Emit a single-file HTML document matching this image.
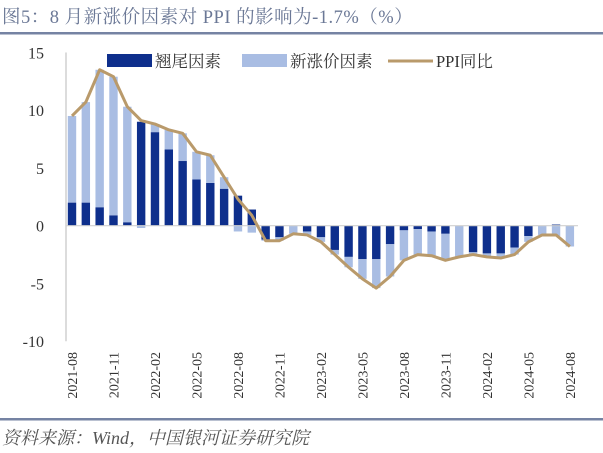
<!DOCTYPE html>
<html><head><meta charset="utf-8"><style>
body{margin:0;background:#fff;width:603px;height:448px;overflow:hidden;font-family:"Liberation Serif","Noto Serif CJK SC",serif}
</style></head><body>
<svg id="c" width="603" height="448" viewBox="0 0 603 448" xmlns="http://www.w3.org/2000/svg">
<text x="2" y="23" font-size="18.5" letter-spacing="0.5" fill="#6b7896" font-family="Liberation Serif, Noto Serif CJK SC, serif">图5：8 月新涨价因素对 PPI 的影响为-1.7%（%）</text>
<rect x="0" y="32" width="603" height="2.5" fill="#7583a3"/>
<rect x="0" y="418" width="603" height="2.5" fill="#7583a3"/>
<text x="2" y="444" font-size="18" font-style="italic" fill="#555">资料来源：Wind，中国银河证券研究院</text>
<g id="plot"></g>
</svg>
<script>
const months=["2021-08","2021-09","2021-10","2021-11","2021-12","2022-01","2022-02","2022-03","2022-04","2022-05","2022-06","2022-07","2022-08","2022-09","2022-10","2022-11","2022-12","2023-01","2023-02","2023-03","2023-04","2023-05","2023-06","2023-07","2023-08","2023-09","2023-10","2023-11","2023-12","2024-01","2024-02","2024-03","2024-04","2024-05","2024-06","2024-07","2024-08"];
const carry=[2.0,2.0,1.6,0.9,0.3,9.0,8.1,6.6,5.6,4.0,3.7,3.2,2.6,1.4,-1.2,-1.0,0,-0.5,-1.0,-2.1,-2.7,-2.9,-2.9,-1.6,-0.4,-0.3,-0.5,-0.7,0,-2.3,-2.4,-2.4,-1.9,-0.9,0,0.1,0];
const newF=[7.5,8.7,11.9,12.0,10.0,-0.2,0.7,1.7,2.4,2.4,2.4,1.0,-0.5,-0.6,-0.1,-0.3,-0.7,-0.3,-0.4,-0.4,-0.9,-1.7,-2.5,-2.8,-2.6,-2.2,-2.1,-2.3,-2.7,-0.2,-0.3,-0.4,-0.6,-0.5,-0.8,-0.9,-1.8];
const ppi=[9.5,10.7,13.5,12.9,10.3,9.1,8.8,8.3,8.0,6.4,6.1,4.2,2.3,0.9,-1.3,-1.3,-0.7,-0.8,-1.4,-2.5,-3.6,-4.6,-5.4,-4.4,-3.0,-2.5,-2.6,-3.0,-2.7,-2.5,-2.7,-2.8,-2.5,-1.4,-0.8,-0.8,-1.8];
const yTicks=[15,10,5,0,-5,-10];
const NS="http://www.w3.org/2000/svg";
const g=document.getElementById('plot');
const y=v=>225.7-v*11.55;
const x=i=>72+i*13.83;
function mk(t,a){const e=document.createElementNS(NS,t);for(const k in a)e.setAttribute(k,a[k]);g.appendChild(e);return e;}
let ax=mk('line',{x1:66,x2:66,y1:y(15),y2:y(-10),stroke:'#d0d0d0','stroke-width':1.5});


yTicks.forEach(v=>{const t=mk('text',{x:44,y:y(v)+6,'text-anchor':'end','font-size':16,fill:'#333'});t.textContent=v;

});
months.forEach((m,i)=>{
 const c=carry[i],n=newF[i];let pos=0,neg=0;
 [[c,'#0e2f8c','bar-carryover'],[n,'#a9bde3','bar-new-factor']].forEach(([v,col,nm])=>{
  let y0,y1;if(v>=0){y0=pos;y1=pos+v;pos=y1;}else{y0=neg;y1=neg+v;neg=y1;}
  const r=mk('rect',{x:x(i)-4.2,width:8.4,y:Math.min(y(y0),y(y1)),height:Math.abs(y(y1)-y(y0)),fill:col});
  
  
 });
 if(i%3===0){const t=mk('text',{transform:`translate(${x(i)+5},352) rotate(-90)`,'text-anchor':'end','font-size':14,fill:'#333'});t.textContent=m;
 
 }
});
let zl=mk('line',{x1:66,x2:578,y1:y(0),y2:y(0),stroke:'#d0d0d0','stroke-width':1.2});


const pl=mk('polyline',{points:ppi.map((v,i)=>x(i)+','+y(v)).join(' '),fill:'none',stroke:'#b99a6b','stroke-width':3,'stroke-linejoin':'round'});


[[107,'#0e2f8c','翘尾因素','rect'],[242,'#a9bde3','新涨价因素','rect'],[388,'#b99a6b','PPI同比','line']].forEach(([lx,col,lab,k])=>{
 let s;if(k==='rect')s=mk('rect',{x:lx,y:54,width:45,height:13,fill:col});else s=mk('line',{x1:lx,x2:lx+45,y1:61,y2:61,stroke:col,'stroke-width':3});
 
 
 const t=mk('text',{x:lx+48,y:67,'font-size':16.5,fill:'#333'});t.textContent=lab;
 
 
});
</script>
</body></html>
